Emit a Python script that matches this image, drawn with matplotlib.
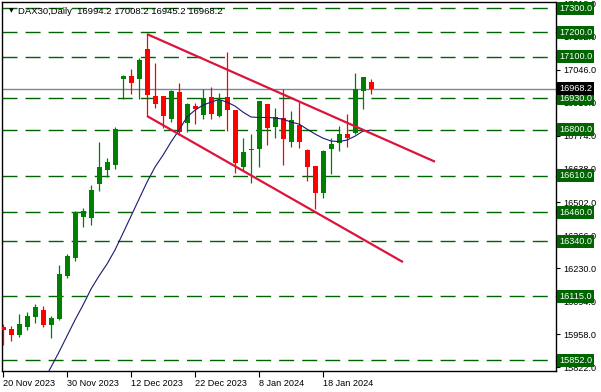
import matplotlib
matplotlib.use("Agg")
import matplotlib.pyplot as plt

# DAX30 daily candles, 20 Nov 2023 .. 26 Jan 2024
opens = [15988, 15979, 15956, 15989, 16030, 16058, 15997, 16019, 16199, 16273,
         16441, 16437, 16577, 16635, 16655, 17007, 17020, 17008, 17131, 16938,
         16938, 16843, 16953, 16828, 16898, 16860, 16935, 16856, 16933, 16880,
         16647, 16715, 16719, 16905, 16812, 16846, 16750, 16819, 16716, 16650,
         16538, 16720, 16746, 16782, 16787, 16960, 16994.2]
highs = [16000, 15992, 16041, 16049, 16082, 16074, 16033, 16242, 16288, 16465,
         16477, 16572, 16749, 16683, 16812, 17024, 17049, 17096, 17193, 17073,
         16940, 16961, 16990, 16908, 16909, 16967, 16976, 16949, 17119, 16882,
         16764, 16782, 16917, 16906, 16887, 16966, 16878, 16915, 16719, 16652,
         16715, 16764, 16815, 16864, 17034, 17017, 17008.2]
lows = [15914, 15931, 15948, 15975, 16005, 15989, 15944, 16015, 16191, 16261,
        16400, 16407, 16548, 16604, 16639, 16926, 16945, 16926, 16856, 16890,
        16805, 16830, 16778, 16791, 16823, 16843, 16843, 16850, 16795, 16620,
        16634, 16579, 16647, 16736, 16764, 16654, 16727, 16725, 16590, 16472,
        16517, 16617, 16713, 16727, 16782, 16883, 16945.2]
closes = [15975, 15955, 16000, 16033, 16070, 15996, 16024, 16206, 16280, 16461,
          16465, 16551, 16646, 16667, 16802, 17020, 16993, 17086, 16942, 16905,
          16857, 16959, 16791, 16905, 16885, 16930, 16863, 16922, 16880, 16664,
          16706, 16717, 16917, 16808, 16850, 16762, 16839, 16750, 16645, 16540,
          16713, 16741, 16782, 16764, 16966, 17015, 16968.2]

# moving average line (starts at candle 5)
ma_start = 5
ma_values = [15762, 15823, 15885, 15951, 16017, 16078, 16144, 16198, 16247, 16305,
             16374, 16444, 16514, 16584, 16646, 16695, 16749, 16798, 16852, 16880,
             16901, 16913, 16924, 16913, 16897, 16872, 16852, 16850, 16850, 16848,
             16843, 16831, 16823, 16802, 16782, 16765, 16753, 16751, 16757, 16773,
             16794, 16798]

# trend lines: (index, price) end points
upper_line = [(18, 17193), (54, 16668)]
lower_line = [(18, 16856), (50, 16255)]

levels = [17300, 17200, 17100, 16930, 16800, 16610, 16460, 16340, 16115, 15852]
last_price = 16968.2
axis_ticks = [15822, 15958, 16094, 16230, 16366, 16502, 16638, 16774, 16910, 17046, 17182, 17318]
date_idx = [0, 8, 16, 24, 32, 40]
date_labels = ["20 Nov 2023", "30 Nov 2023", "12 Dec 2023", "22 Dec 2023", "8 Jan 2024", "18 Jan 2024"]

FONT = "Liberation Sans"
W, H = 601, 392
fig = plt.figure(figsize=(W / 100, H / 100), dpi=100)
ax = fig.add_axes([2 / W, 21 / H, 554 / W, 369 / H])
ax.set_xlim(-0.125, 69.125)
ax.set_ylim(15807, 17325)

# horizontal levels
for lv in levels:
    ax.axhline(lv, color="#006400", lw=1.0, dashes=(10.8, 5.8), zorder=1)
ax.axhline(last_price, color="#778899", lw=1.0, zorder=1)

# candles
n = len(opens)
for i in range(n):
    up = closes[i] >= opens[i]
    col = "#008000" if up else "#ff0000"
    ax.vlines(i, lows[i], highs[i], color=col, lw=0.9, zorder=3)
    lo = min(opens[i], closes[i])
    h = max(abs(closes[i] - opens[i]), 4)
    ax.bar(i, h, bottom=lo, width=0.625, color=col, linewidth=0, zorder=3)

# moving average
ax.plot(range(ma_start, ma_start + len(ma_values)), ma_values, color="#191970", lw=0.8, zorder=4)

# trend lines
for line in (upper_line, lower_line):
    xs = [p[0] for p in line]
    ys = [p[1] for p in line]
    ax.plot(xs, ys, color="#dc143c", lw=1.6, zorder=5, solid_capstyle="butt")

# axes styling
for s in ax.spines.values():
    s.set_color("black")
    s.set_linewidth(1.0)
ax.yaxis.tick_right()
ax.set_yticks(axis_ticks)
ax.set_yticklabels([f"{t:.1f}" for t in axis_ticks], fontsize=6.6, family=FONT)
ax.tick_params(axis="y", length=3, width=0.8, pad=2, direction="out")
ax.set_xticks(date_idx)
ax.set_xticklabels(date_labels, fontsize=6.6, family=FONT, ha="left")
ax.tick_params(axis="x", length=4, width=0.8, pad=2, direction="out")

# price labels on the right
tr = ax.get_yaxis_transform()
for lv in levels:
    ax.text(1.0055, lv, f"{lv:.1f}", transform=tr, va="center", ha="left", fontsize=6.6,
            family=FONT, color="white", clip_on=False, zorder=10,
            bbox=dict(boxstyle="square,pad=0.22", fc="#006400", ec="none"))
ax.text(1.0055, last_price, f"{last_price:.1f}", transform=tr, va="center", ha="left",
        fontsize=6.6, family=FONT, color="white", clip_on=False, zorder=11,
        bbox=dict(boxstyle="square,pad=0.22", fc="black", ec="none"))

# header
fig.text(9 / W, 1 - 11 / H, "\u25bc", fontsize=4.5, va="center", ha="left", color="black")
fig.text(18 / W, 1 - 11 / H, "DAX30,Daily  16994.2 17008.2 16945.2 16968.2",
         fontsize=6.8, family=FONT, va="center", ha="left", color="black")

fig.savefig("out.png", dpi=100)
